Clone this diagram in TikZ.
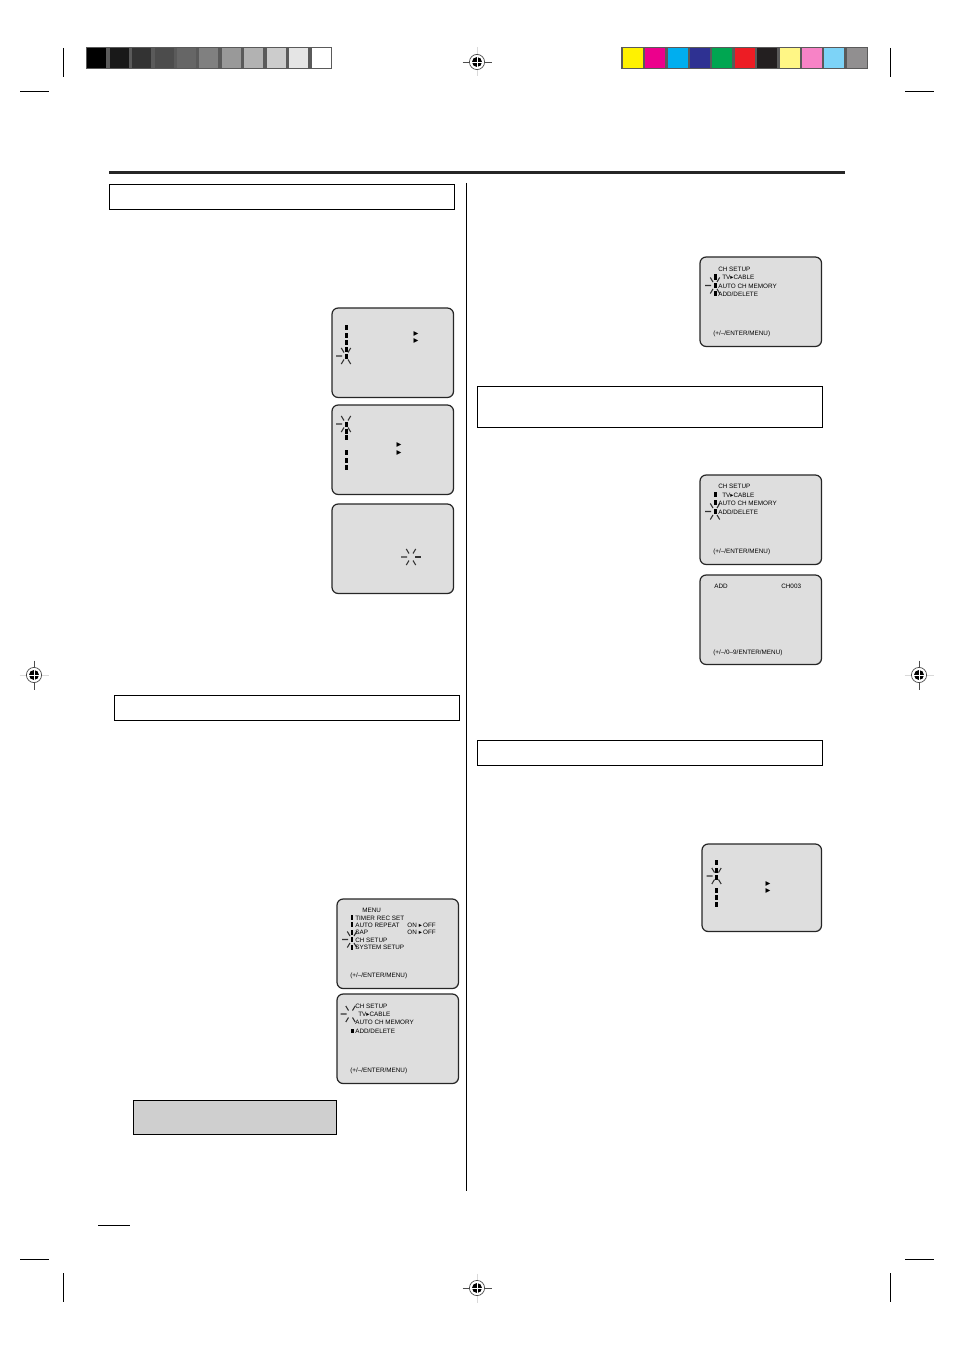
\documentclass[tikz,border=0pt]{standalone}
\usepackage{fontspec}
\setmainfont{Liberation Sans}
\newfontfamily\symfont{DejaVu Sans}
\definecolor{framegray}{HTML}{5A5A5A}
\definecolor{screengray}{HTML}{DEDEDE}
\definecolor{raygray}{HTML}{333333}
\def\screenbox(#1,#2)(#3,#4){\draw[line width=0.7pt, color=black!85, fill=screengray, rounded corners=3.5pt] (#1, #2) rectangle (#3-0.5, #4-0.5);}
\def\burst(#1,#2){\draw[line width=0.6pt, color=raygray] (#1-10, #2) -- (#1-4, #2) (#1-4.7, #2-8) -- (#1-2, #2-3.5) (#1+4.7, #2-8) -- (#1+2, #2-3.5) (#1-4.7, #2+8) -- (#1-2, #2+3.5) (#1+4.7, #2+8) -- (#1+2, #2+3.5);}
\def\regmark(#1,#2)(#3)(#4){%
	\draw[line width=0.5pt, color=#3] (#1-14.5, #2) -- (#1+14.5, #2);
	\draw[line width=0.5pt, color=#4] (#1, #2-14.5) -- (#1, #2+14.5);
	\draw[line width=0.4pt, color=black!70, fill=white] (#1, #2) circle (7.6);
	\fill[black] (#1, #2) circle (5);
	\draw[line width=0.5pt, color=white] (#1-5, #2) -- (#1+5, #2) (#1, #2-5) -- (#1, #2+5);}
\tikzset{
	osdtext/.style={anchor=west, inner sep=0pt, yshift=-0.3pt, font=\fontsize{3.6}{5}\selectfont, color=black},
	titlebox/.style={line width=0.45pt, fill=white},
	cropline/.style={line width=0.45pt},
	barmark/.style={fill=black},
	trimark/.style={font=\fontsize{5.5}{5}\selectfont\symfont, inner sep=0pt},
}

\begin{document}
\begin{tikzpicture}[x=0.02cm, y=-0.02cm]
		\useasboundingbox (0, 0) rectangle (954, 1351);
		%%%%% START %%%%%
		
		% colour bars
		\fill[framegray] (86, 47) rectangle (332, 69.5);
		\foreach \xx/\gg in {87/100, 110/90, 132/80, 155/70, 177/60, 199/50, 222/40, 244/30, 267/20, 289/10, 312/0}
			\fill[black!\gg] (\xx, 48) rectangle (\xx+19.3, 68.5);
		\fill[framegray] (621, 47) rectangle (868, 69.5);
		\foreach \xx/\cc in {623/FFF200, 645/EC008C, 668/00AEEF, 690/2E3192, 712/00A651, 735/ED1C24, 757/231F20, 780/FFF685, 802/F783C6, 824/7DD3F7, 847/918F90} {
			\definecolor{swatch}{HTML}{\cc}
			\fill[swatch] (\xx, 48) rectangle (\xx+19.5, 68.5);
		}
		
		% crop marks
		\draw[cropline] (63, 48) -- (63, 77);
		\draw[cropline] (890, 48) -- (890, 77);
		\draw[cropline] (20, 91.5) -- (49, 91.5);
		\draw[cropline] (905, 91.5) -- (934, 91.5);
		\draw[cropline] (20, 1259.5) -- (49, 1259.5);
		\draw[cropline] (905, 1259.5) -- (934, 1259.5);
		\draw[cropline] (63, 1273) -- (63, 1302);
		\draw[cropline] (890, 1273) -- (890, 1302);
		\regmark(477,62)(black!70)(black!15)
		\regmark(477,1288)(black!70)(black!15)
		\regmark(34,675)(black!15)(black!70)
		\regmark(919,675)(black!15)(black!70)
		
		% page rules
		\draw[line width=1.9pt, color=black!85] (109, 172.5) -- (845, 172.5);
		\draw[line width=0.45pt] (466, 183) -- (466, 1191);
		\draw[line width=0.45pt] (98, 1225) -- (130, 1225);
		
		% title boxes
		\draw[titlebox] (109, 184) rectangle (454.7, 209.2);
		\draw[titlebox] (114, 695) rectangle (459.7, 720.2);
		\draw[titlebox] (477, 386) rectangle (822.7, 427.7);
		\draw[titlebox] (477, 740) rectangle (822.7, 765.7);
		\draw[line width=0.4pt, fill=black!19] (133, 1100) rectangle (336.7, 1134.7);
		
		% left column screens
		\screenbox(332,308)(454,398)
		\foreach \yy in {327.5, 335, 342.5, 349.5, 356}
			\fill[barmark] (344.5, \yy-2.5) rectangle (347.5, \yy+2.5);
		\burst(346,356)
		\node[trimark] (triA) at (416, 334) {▸};
		\node[trimark] (triB) at (416, 341.5) {▸};
		
		\screenbox(332,405)(454,495)
		\foreach \yy in {424, 431, 437.5, 452.5, 460, 467}
			\fill[barmark] (344.5, \yy-2.5) rectangle (347.5, \yy+2.5);
		\burst(346,424)
		\node[trimark] (triC) at (399, 445) {▸};
		\node[trimark] (triD) at (399, 453) {▸};
		
		\screenbox(332,504)(454,594)
		\burst(411,557)
		\draw[line width=0.6pt, color=raygray] (415, 557) -- (421, 557);
		
		% menu screen
		\screenbox(337,899)(459,989)
		\foreach \yy in {917, 924.5, 932, 939.5, 947}
			\fill[barmark] (350.5, \yy-2.5) rectangle (353, \yy+2.5);
		\burst(352,939.5)
		\node[osdtext] (menuTitle) at (362, 910) {MENU};
		\node[osdtext] (menuTimer) at (355, 917.5) {TIMER REC SET};
		\node[osdtext] (menuRepeat) at (355, 924.5) {AUTO REPEAT};
		\node[osdtext] (menuSap) at (355, 932) {SAP};
		\node[osdtext] (menuCh) at (355, 939.5) {CH SETUP};
		\node[osdtext] (menuSystem) at (355, 946.5) {SYSTEM SETUP};
		\node[osdtext] (menuOnA) at (407, 924.5) {ON\,\,{\symfont ▸}\,OFF};
		\node[osdtext] (menuOnB) at (407, 931.5) {ON\,\,{\symfont ▸}\,OFF};
		\node[osdtext] (menuKeys) at (350, 975) {(+/–/ENTER/MENU)};
		
		% ch setup screen, cursor on first line
		\screenbox(337,994)(459,1084)
		\burst(350.5,1014)
		\fill[barmark] (351, 1028.5) rectangle (353.5, 1032.5);
		\node[osdtext] (setupATitle) at (355, 1005.5) {CH SETUP};
		\node[osdtext] (setupATv) at (358, 1013.5) {TV{\symfont ▸}CABLE};
		\node[osdtext] (setupAAuto) at (355, 1022) {AUTO CH MEMORY};
		\node[osdtext] (setupAAdd) at (355, 1030.5) {ADD/DELETE};
		\node[osdtext] (setupAKeys) at (350, 1070.5) {(+/–/ENTER/MENU)};
		
		% right column screens
		\screenbox(700,257)(822,347)
		\fill[barmark] (714, 274.5) rectangle (716.5, 280);
		\fill[barmark] (714, 291) rectangle (716.5, 296);
		\fill[barmark] (714, 283) rectangle (716.5, 288);
		\burst(715,285.5)
		\node[osdtext] (setupBTitle) at (718, 268.5) {CH SETUP};
		\node[osdtext] (setupBTv) at (722, 277) {TV{\symfont ▸}CABLE};
		\node[osdtext] (setupBAuto) at (718, 285.5) {AUTO CH MEMORY};
		\node[osdtext] (setupBAdd) at (718, 293.5) {ADD/DELETE};
		\node[osdtext] (setupBKeys) at (713, 333.5) {(+/–/ENTER/MENU)};
		
		\screenbox(700,475)(822,565)
		\fill[barmark] (714, 492) rectangle (716.5, 496.5);
		\fill[barmark] (714, 500) rectangle (716.5, 505);
		\fill[barmark] (714, 509) rectangle (716.5, 514);
		\burst(715,511.5)
		\node[osdtext] (setupCTitle) at (718, 485.5) {CH SETUP};
		\node[osdtext] (setupCTv) at (722, 494.5) {TV{\symfont ▸}CABLE};
		\node[osdtext] (setupCAuto) at (718, 503) {AUTO CH MEMORY};
		\node[osdtext] (setupCAdd) at (718, 511.5) {ADD/DELETE};
		\node[osdtext] (setupCKeys) at (713, 551.5) {(+/–/ENTER/MENU)};
		
		\screenbox(700,575)(822,665)
		\node[osdtext] (addLabel) at (714, 585.5) {ADD};
		\node[osdtext] (addChannel) at (781, 585.5) {CH003};
		\node[osdtext] (addKeys) at (713, 652) {(+/–/0–9/ENTER/MENU)};
		
		\screenbox(702,844)(822,932)
		\foreach \yy in {862.5, 870, 877, 890, 897.5, 904.5}
			\fill[barmark] (715, \yy-2.5) rectangle (718, \yy+2.5);
		\burst(716.5,876)
		\node[trimark] (triE) at (768, 884) {▸};
		\node[trimark] (triF) at (768, 891) {▸};
		
		%%%%% END %%%%%
	\end{tikzpicture}
\end{document}
